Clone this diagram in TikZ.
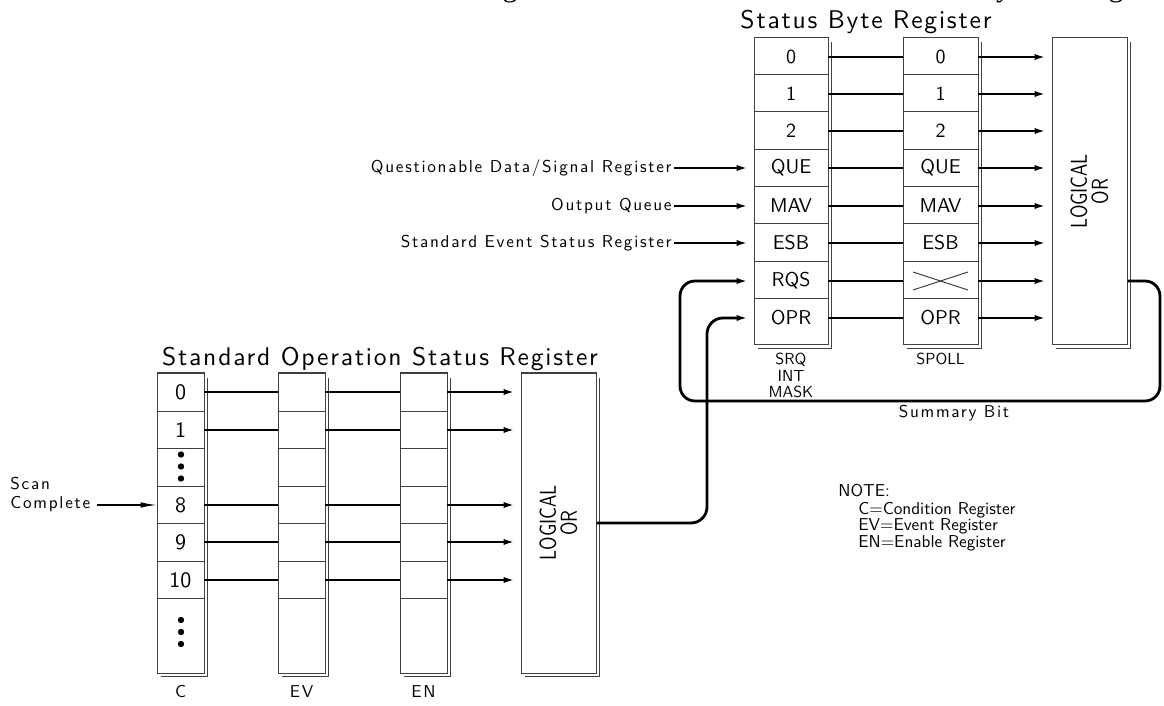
\documentclass[tikz,border=0pt]{standalone}
\usepackage{fontspec}
\usepackage{graphicx}
\usetikzlibrary{arrows.meta,calc}
\newfontfamily\cadb{lmsans10-regular}[Extension=.otf,LetterSpace=10]
\newfontfamily\cadt{lmsans10-regular}[Extension=.otf,LetterSpace=7]
\newfontfamily\cadr{lmsans10-regular}[Extension=.otf]
\newfontfamily\clipserif{Liberation Serif}
\tikzset{
  box/.style={draw=black!75, line width=0.5pt, inner sep=0pt},
  cellrow/.style={inner sep=0pt, minimum height=18.5pt},
  conn/.style={line width=1.4pt, line cap=butt},
  arr/.style={conn, -{Latex[length=8.5pt,width=2.8pt]}},
  thinarr/.style={line width=0.6pt, -{Latex[length=8pt,width=2.8pt]}},
  sep/.style={draw=black!75, line width=0.5pt},
  shadowl/.style={draw=black!75, line width=0.5pt},
  rowlab/.style={font=\cadr\fontsize{10}{12}\selectfont},
  rowlabL/.style={font=\cadr\fontsize{11}{13}\selectfont},
  body/.style={font=\cadb\fontsize{8.6}{10}\selectfont, inner sep=0pt},
  plain/.style={font=\cadr\fontsize{8.6}{10}\selectfont, inner sep=0pt},
  title/.style={font=\cadt\fontsize{12.8}{14}\selectfont, inner sep=0pt},
  small/.style={font=\cadr\fontsize{8}{8.25}\selectfont, inner sep=0pt, align=center},
  ortext/.style={rotate=90, align=center, inner sep=0pt, font=\cadr\fontsize{11.5}{10.5}\selectfont},
}
\newcommand\dropshadow[1]{\draw[shadowl] ([xshift=1.5pt,yshift=-2.5pt]#1.north east) -- ([xshift=1.5pt,yshift=-1.5pt]#1.south east) -- ([xshift=2pt,yshift=-1.5pt]#1.south west);}
\begin{document}
\begin{tikzpicture}[x=0.5pt,y=-0.5pt]
\useasboundingbox (0,0) rectangle (1164,706);
\clip (0,0) rectangle (1164,706);
\node[anchor=base west, inner sep=0pt, font=\clipserif\fontsize{15}{17}\selectfont] (toptext) at (484,-3) {figure shown below illustrates the Status System Registers};

% ---------------- Status Byte Register ----------------
\node[title, anchor=base] (sbrt) at (866,29) {Status Byte Register};
\node[box, minimum width=37pt, minimum height=153.5pt] (srq) at (791,191.5) {};
\node[box, minimum width=37.5pt, minimum height=153.5pt] (spoll) at (940.5,191.5) {};
\node[box, minimum width=37.5pt, minimum height=153.5pt] (orA) at (1089.5,191.5) {};
\dropshadow{srq}
\dropshadow{spoll}
\dropshadow{orA}
\foreach \y in {75,112,150,187,224,262,299} {
  \draw[sep] (srq.west |- 0,\y) -- (srq.east |- 0,\y);
  \draw[sep] (spoll.west |- 0,\y) -- (spoll.east |- 0,\y);
}
\foreach \n/\y in {0/57,1/94,2/131,QUE/168,MAV/206,ESB/243,RQS/281,OPR/318} {
  \node[cellrow, rowlab, minimum width=37pt] (srq\n) at (791,\y) {\n};
}
\foreach \n/\y in {0/57,1/94,2/131,QUE/168,MAV/206,ESB/243,OPR/318} {
  \node[cellrow, rowlab, minimum width=37.5pt] (spoll\n) at (940.5,\y) {\n};
}
\node[cellrow, minimum width=37.5pt] (spollRQS) at (940.5,281) {};
\draw[sep] ([shift={(-27.5,-9)}]spollRQS.center) -- ([shift={(27.5,9)}]spollRQS.center);
\draw[sep] ([shift={(-27.5,9)}]spollRQS.center) -- ([shift={(27.5,-9)}]spollRQS.center);
\foreach \n in {0,1,2,QUE,MAV,ESB,RQS,OPR} {
  \draw[conn] (srq\n.east) -- (spoll\n.west);
  \draw[arr] (spoll\n.east) -- (orA.west |- spoll\n.east);
}
\node[ortext] (orAt) at (orA.center) {\scalebox{0.8}[1]{LOGICAL}\\\scalebox{0.8}[1]{OR}};

\node[body, anchor=east] (qds) at (672,168) {Questionable Data/Signal Register};
\node[body, anchor=east] (oq) at (672,206) {Output Queue};
\node[body, anchor=east] (sesr) at (672,243) {Standard Event Status Register};
\draw[arr, shorten <=1pt] (qds.east |- srqQUE.west) -- (srqQUE.west);
\draw[arr, shorten <=1pt] (oq.east |- srqMAV.west) -- (srqMAV.west);
\draw[arr, shorten <=1pt] (sesr.east |- srqESB.west) -- (srqESB.west);

\node[small, anchor=north] (srqlab) at (791,353) {SRQ\\INT\\MASK};
\node[small, anchor=north] (spolllab) at (940.5,353) {SPOLL};

% summary bit loop
\coordinate (lpR) at (1160,401);
\coordinate (lpL) at (680,401);
\draw[arr, rounded corners=7.5pt] (orA.east |- spollRQS.east) -| (lpR) -- (lpL) |- (srqRQS.west);
\node[body, anchor=base] (sumbit) at (954,417) {Summary Bit};

% ---------------- Standard Operation Status Register ----------------
\node[title, anchor=base] (sosrt) at (380,365) {Standard Operation Status Register};
\node[box, minimum width=23.5pt, minimum height=150pt] (creg) at (180.5,523) {};
\node[box, minimum width=23.5pt, minimum height=150pt] (evreg) at (301.5,523) {};
\node[box, minimum width=23.5pt, minimum height=150pt] (enreg) at (423.5,523) {};
\node[box, minimum width=37.5pt, minimum height=150pt] (orB) at (558.5,523) {};
\dropshadow{creg}
\dropshadow{evreg}
\dropshadow{enreg}
\dropshadow{orB}
\foreach \y in {411,448,486,523,561,598} {
  \draw[sep] (creg.west |- 0,\y) -- (creg.east |- 0,\y);
  \draw[sep] (evreg.west |- 0,\y) -- (evreg.east |- 0,\y);
  \draw[sep] (enreg.west |- 0,\y) -- (enreg.east |- 0,\y);
}
\foreach \n/\y in {0/392,1/430,8/505,9/542,10/580} {
  \node[cellrow, rowlabL, minimum width=23.5pt] (c\n) at (180.5,\y) {\n};
  \node[cellrow, minimum width=23.5pt] (ev\n) at (301.5,\y) {};
  \node[cellrow, minimum width=23.5pt] (en\n) at (423.5,\y) {};
  \draw[conn] (c\n.east) -- (ev\n.west);
  \draw[conn] (ev\n.east) -- (en\n.west);
  \draw[arr] (en\n.east) -- (orB.west |- en\n.east);
}
\coordinate (cdA) at (181,466.5);
\coordinate (cdB) at (181,632);
\foreach \d in {-6,0,6} {
  \fill ([yshift=\d pt]cdA) circle (1.6pt);
  \fill ([yshift=\d pt]cdB) circle (1.6pt);
}
\node[ortext] (orBt) at (orB.center) {\scalebox{0.8}[1]{LOGICAL}\\\scalebox{0.8}[1]{OR}};

\node[body, anchor=base] (clab) at (180.5,697) {C};
\node[body, anchor=base] (evlab) at (301.5,697) {EV};
\node[body, anchor=base] (enlab) at (423.5,697) {EN};

\node[body, anchor=west] (scan) at (10,484) {Scan};
\node[body, anchor=west] (complete) at (10,504) {Complete};
\draw[thinarr, shorten <=3pt] (complete.east |- c8.west) -- (c8.west);

% OPR feed
\coordinate (oprx) at (707,0);
\draw[arr, rounded corners=8pt] (orB.east) -| (oprx |- srqOPR.west) -- (srqOPR.west);

% note
\node[plain, anchor=base west] (note) at (838,496) {NOTE:};
\node[plain, anchor=base west] (noteC) at (858,514) {C=Condition Register};
\node[plain, anchor=base west] (noteEV) at (858,530) {EV=Event Register};
\node[plain, anchor=base west] (noteEN) at (858,547) {EN=Enable Register};
\end{tikzpicture}
\end{document}
